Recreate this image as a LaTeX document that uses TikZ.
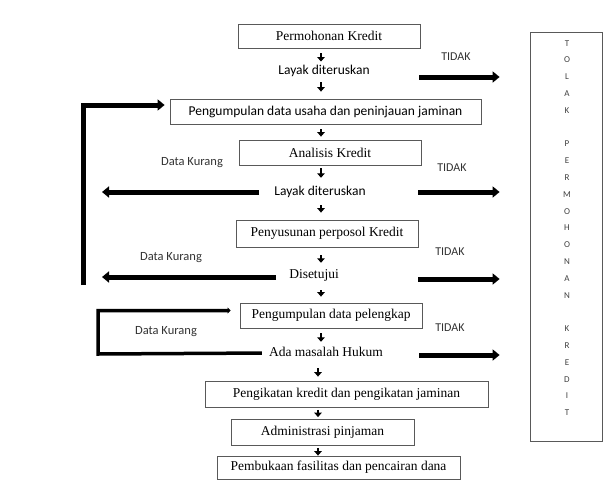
\documentclass[tikz,border=0pt]{standalone}
\usepackage{fontspec}
\usetikzlibrary{arrows.meta,calc}
\newfontfamily\serfont{Liberation Serif}
\newfontfamily\sansfnt{Carlito}
\begin{document}
\begin{tikzpicture}[x=1pt,y=-1pt,
  box/.style={draw=black!65, line width=0.8pt, inner sep=0pt, minimum height=25pt,
    font=\serfont\fontsize{13.5}{16}\selectfont},
  sbox/.style={box, font=\sansfnt\fontsize{13.5}{16}\selectfont},
  lbl/.style={inner sep=1pt, text height=9.5pt, text depth=3pt},
  slbl/.style={lbl, font=\sansfnt\fontsize{13.5}{16}\selectfont},
  tlbl/.style={lbl, font=\serfont\fontsize{13.5}{16}\selectfont},
  dk/.style={inner sep=0pt, font=\sansfnt\fontsize{12.5}{15}\selectfont, text=black!80},
  td/.style={inner sep=0pt, font=\sansfnt\fontsize{12}{14}\selectfont, text=black!80},
  dn/.style={line width=2.6pt, -{Triangle[length=4.5pt,width=7.5pt]}},
  big/.style={line width=5pt, line join=miter, -{Triangle[length=7pt,width=11pt]}},
  mid/.style={line width=3.5pt, line join=miter, -{Triangle[length=3pt,width=6pt]}}
]
\useasboundingbox (0,0) rectangle (603,480);

% main column
\node[box, minimum width=182pt, minimum height=24pt] (b1) at (329,36) {Permohonan Kredit};
\node[slbl] (l1) at (324,71) {Layak diteruskan};
\node[sbox, minimum width=311pt] (b3) at (325.5,111.5) {Pengumpulan data usaha dan peninjauan jaminan};
\node[box, minimum width=182pt] (b4) at (330,152.5) {Analisis Kredit};
\node[slbl] (l2) at (320,192) {Layak diteruskan};
\node[box, minimum width=182pt, minimum height=27pt] (b6) at (327,233.5) {Penyusunan perposol Kredit};
\node[tlbl] (dis) at (314,275) {Disetujui};
\node[box, minimum width=182pt] (b8) at (331,315.5) {Pengumpulan data pelengkap};
\node[tlbl] (ada) at (326,353) {Ada masalah Hukum};
\node[box, minimum width=283pt, minimum height=26pt] (b10) at (346.5,394) {Pengikatan kredit dan pengikatan jaminan};
\node[box, minimum width=183pt, minimum height=26pt] (b11) at (322.5,432) {Administrasi pinjaman};
\node[box, minimum width=243pt, minimum height=23pt] (b12) at (338.5,467.5) {Pembukaan fasilitas dan pencairan dana};

% right box
\node[draw=black!65, line width=0.8pt, minimum width=72pt, minimum height=409pt, inner sep=0pt] (tolak) at (566,236.5) {};
\node[inner sep=0pt, align=center, font=\sansfnt\fontsize{9}{16.8}\selectfont, text=black!75] (tolaktext) at (567,228)
  {T\\O\\L\\A\\K\\\mbox{}\\P\\E\\R\\M\\O\\H\\O\\N\\A\\N\\\mbox{}\\K\\R\\E\\D\\I\\T};

% small down arrows
\coordinate (col) at (321,0);
\coordinate (colb) at (318,0);
\draw[dn, shorten <=5pt, shorten >=2pt] (b1.south -| col) -- (l1.north -| col);
\draw[dn, shorten <=3.75pt, shorten >=7pt] (l1.south -| col) -- (b3.north -| col);
\draw[dn, shorten <=5pt, shorten >=3pt] (b3.south -| col) -- (b4.north -| col);
\draw[dn, shorten <=3pt, shorten >=6.75pt] (b4.south -| col) -- (l2.north -| col);
\draw[dn, shorten <=5.75pt, shorten >=7pt] (l2.south -| col) -- (b6.north -| col);
\draw[dn, shorten <=8pt, shorten >=4.75pt] (b6.south -| col) -- (dis.north -| col);
\draw[dn, shorten <=7.75pt, shorten >=6pt] (dis.south -| col) -- (b8.north -| col);
\draw[dn, shorten <=5pt, shorten >=3.75pt] (b8.south -| col) -- (ada.north -| col);
\draw[dn, shorten <=7.75pt, shorten >=4pt] (ada.south -| colb) -- (b10.north -| colb);
\draw[dn, shorten <=2.5pt, shorten >=1.5pt] (b10.south -| colb) -- (b11.north -| colb);
\draw[dn, shorten <=2.5pt, shorten >=0pt] (b11.south -| colb) -- (b12.north -| colb);

% TIDAK arrows
\coordinate (t1) at (419,77);
\coordinate (t2) at (418,192);
\coordinate (t3) at (418,279);
\coordinate (t4) at (419,355);
\foreach \t in {t1,t2,t3,t4}
  \draw[big, shorten >=30pt] (\t) -- (\t -| tolak.west);
\node[td] (td1) at (456,57) {TIDAK};
\node[td] (td2) at (452,168) {TIDAK};
\node[td] (td3) at (450,252) {TIDAK};
\node[td] (td4) at (450,328) {TIDAK};

% left feedback (big loop)
\coordinate (vt) at (83,105);
\coordinate (vb) at (83,285);
\coordinate (lt) at (102,0);
\draw[big, shorten >=5pt] (vb) -- (vt) -- (vt -| b3.west);
\draw[big, shorten <=14pt] (l2.west) -- (l2.west -| lt);
\draw[big, shorten <=12pt] (dis.west |- 0,277) -- (lt |- 0,277);
\node[dk] (dk1) at (192,163) {Data Kurang};
\node[dk] (dk2) at (171,258) {Data Kurang};

% bottom loop
\coordinate (c1) at (98,354);
\coordinate (c2) at (98,310.5);
\draw[mid, shorten <=6pt, shorten >=9pt] (ada.west) -- (c1) -- (c2) -- (c2 -| b8.west);
\node[dk] (dk3) at (166,332) {Data Kurang};
\end{tikzpicture}
\end{document}
